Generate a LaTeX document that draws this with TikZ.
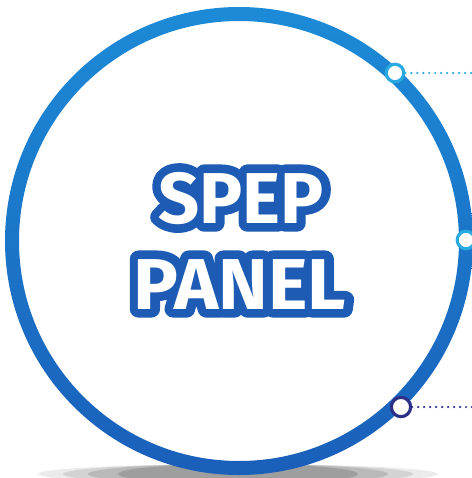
\documentclass[tikz,border=0pt]{standalone}
\usepackage{fontspec}
\newfontfamily\wordfill{Fira Sans Bold}
\newfontfamily\wordline[FakeBold=24]{Fira Sans Bold}
\definecolor{RingTop}{HTML}{1C8BD7}
\definecolor{RingBottom}{HTML}{1A5FBA}
\definecolor{TagCyan}{HTML}{2AA9E1}
\definecolor{TagNavy}{HTML}{2E3088}
\definecolor{WordBlue}{HTML}{1D5BB4}

\begin{document}
\begin{tikzpicture}[x=0.02cm,y=-0.02cm,line cap=round,line join=round,
  tag/.style={circle,fill=white,line width=1.8pt,minimum size=10pt,inner sep=0pt},
  word/.style={inner sep=0pt,anchor=base,font=\fontsize{41}{41}\selectfont}]
  \clip (0,0) rectangle (472,478);
  \fill[white] (0,0) rectangle (472,478);
  \foreach \w/\o in {200/0.08,175/0.1,150/0.12,120/0.14}
    \fill[black,opacity=\o] (238,474) ellipse ({\w} and 10);
  \shade[top color=RingTop,bottom color=RingBottom,even odd rule] (239,241) circle (234) (239,241) circle (220);
  \node[tag,draw=TagCyan] (top) at (395,73) {};
  \node[tag,draw=TagCyan] (mid) at (466,240) {};
  \node[tag,draw=TagNavy,minimum size=11pt] (low) at (401,407) {};
  \coordinate (topend) at (472,73);
  \coordinate (lowend) at (472,407);
  \draw[TagCyan,line width=1.4pt,dash pattern=on 0pt off 3.4pt] (top) -- (topend);
  \draw[TagNavy,line width=1.4pt,dash pattern=on 0pt off 3.4pt] (low) -- (lowend);
  \node[word,text=WordBlue] (spepline) at (241,223) {\wordline SPEP};
  \node[word,text=white] (spep) at (241,223) {\wordfill SPEP};
  \node[word,text=WordBlue,xscale=1.04] (panelline) at (240,309) {\wordline PANEL};
  \node[word,text=white,xscale=1.04] (panel) at (240,309) {\wordfill PANEL};
\end{tikzpicture}
\end{document}
